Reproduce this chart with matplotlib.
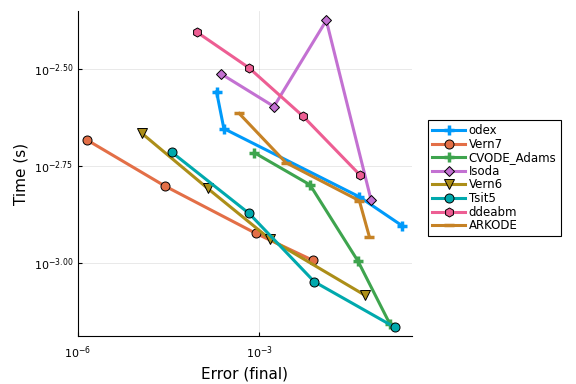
import matplotlib
matplotlib.use("Agg")
import matplotlib.pyplot as plt
from matplotlib.ticker import FixedLocator, FixedFormatter, NullLocator

# log10 of final error and time (s)
names = ["odex", "Vern7", "CVODE_Adams", "Isoda", "Vern6", "Tsit5", "ddeabm", "ARKODE"]
log_err = {
    "odex":        [-3.706, -3.585, -1.342, -0.630],
    "Vern7":       [-5.844, -4.563, -3.059, -2.110],
    "CVODE_Adams": [-3.083, -2.159, -1.364, -0.833],
    "Isoda":       [-3.630, -2.756, -1.889, -1.148],
    "Vern6":       [-4.944, -3.855, -2.822, -1.248],
    "Tsit5":       [-4.447, -3.166, -2.088, -0.750],
    "ddeabm":      [-4.033, -3.171, -2.275, -1.336],
    "ARKODE":      [-3.331, -2.557, -1.342, -1.176],
}
log_time = {
    "odex":        [-2.559, -2.654, -2.830, -2.905],
    "Vern7":       [-2.684, -2.802, -2.924, -2.994],
    "CVODE_Adams": [-2.716, -2.799, -2.996, -3.159],
    "Isoda":       [-2.513, -2.597, -2.375, -2.838],
    "Vern6":       [-2.666, -2.808, -2.939, -3.084],
    "Tsit5":       [-2.715, -2.873, -3.049, -3.167],
    "ddeabm":      [-2.405, -2.497, -2.622, -2.773],
    "ARKODE":      [-2.615, -2.742, -2.840, -2.933],
}

colors = ["#009AFA", "#E36F47", "#3EA44E", "#C371D2", "#AC8E18", "#00A9AD", "#ED5E93", "#C68225"]
markers = ["+", "o", "+", "D", "v", "o", "h", "_"]
msizes = [7, 6.5, 7, 5, 6.5, 6.5, 6.5, 7]

fig = plt.figure(figsize=(5.76, 3.84), dpi=100)
ax = fig.add_axes([0.1354, 0.125, 0.5796, 0.846])

for name, c, m, ms in zip(names, colors, markers, msizes):
    xs = [10 ** v for v in log_err[name]]
    ys = [10 ** v for v in log_time[name]]
    if m in ("+", "_"):
        ax.plot(xs, ys, color=c, lw=2.2, marker=m, ms=ms, mew=2.5, mec=c, label=name)
    else:
        ax.plot(xs, ys, color=c, lw=2.2, marker=m, ms=ms, mfc=c, mec="black", mew=0.7, label=name)

ax.set_xscale("log")
ax.set_yscale("log")
ax.set_xlim(10 ** -6.0, 10 ** -0.473)
ax.set_ylim(10 ** -3.189, 10 ** -2.351)

ax.xaxis.set_major_locator(FixedLocator([1e-6, 1e-3]))
ax.xaxis.set_major_formatter(FixedFormatter([r"$10^{-6}$", r"$10^{-3}$"]))
ax.xaxis.set_minor_locator(NullLocator())
yt = [-3.0, -2.75, -2.5]
ax.yaxis.set_major_locator(FixedLocator([10 ** v for v in yt]))
ax.yaxis.set_major_formatter(FixedFormatter([r"$10^{%.2f}$" % v for v in yt]))
ax.yaxis.set_minor_locator(NullLocator())

ax.grid(True, color="black", alpha=0.1, lw=0.6)
ax.tick_params(direction="in", labelsize=8, length=3)
ax.tick_params(axis="x", pad=6)
for s in ("top", "right"):
    ax.spines[s].set_visible(False)

ax.set_xlabel("Error (final)", fontsize=11)
ax.set_ylabel("Time (s)", fontsize=11)

leg = ax.legend(loc="upper left", bbox_to_anchor=(0.743, 0.6875), bbox_transform=fig.transFigure,
                fontsize=8.5, fancybox=False, edgecolor="black", framealpha=1,
                handlelength=2.8, labelspacing=0.05, borderpad=0.35, handletextpad=0.3,
                borderaxespad=0)
leg.get_frame().set_linewidth(0.8)

fig.savefig("out.png", dpi=100)
